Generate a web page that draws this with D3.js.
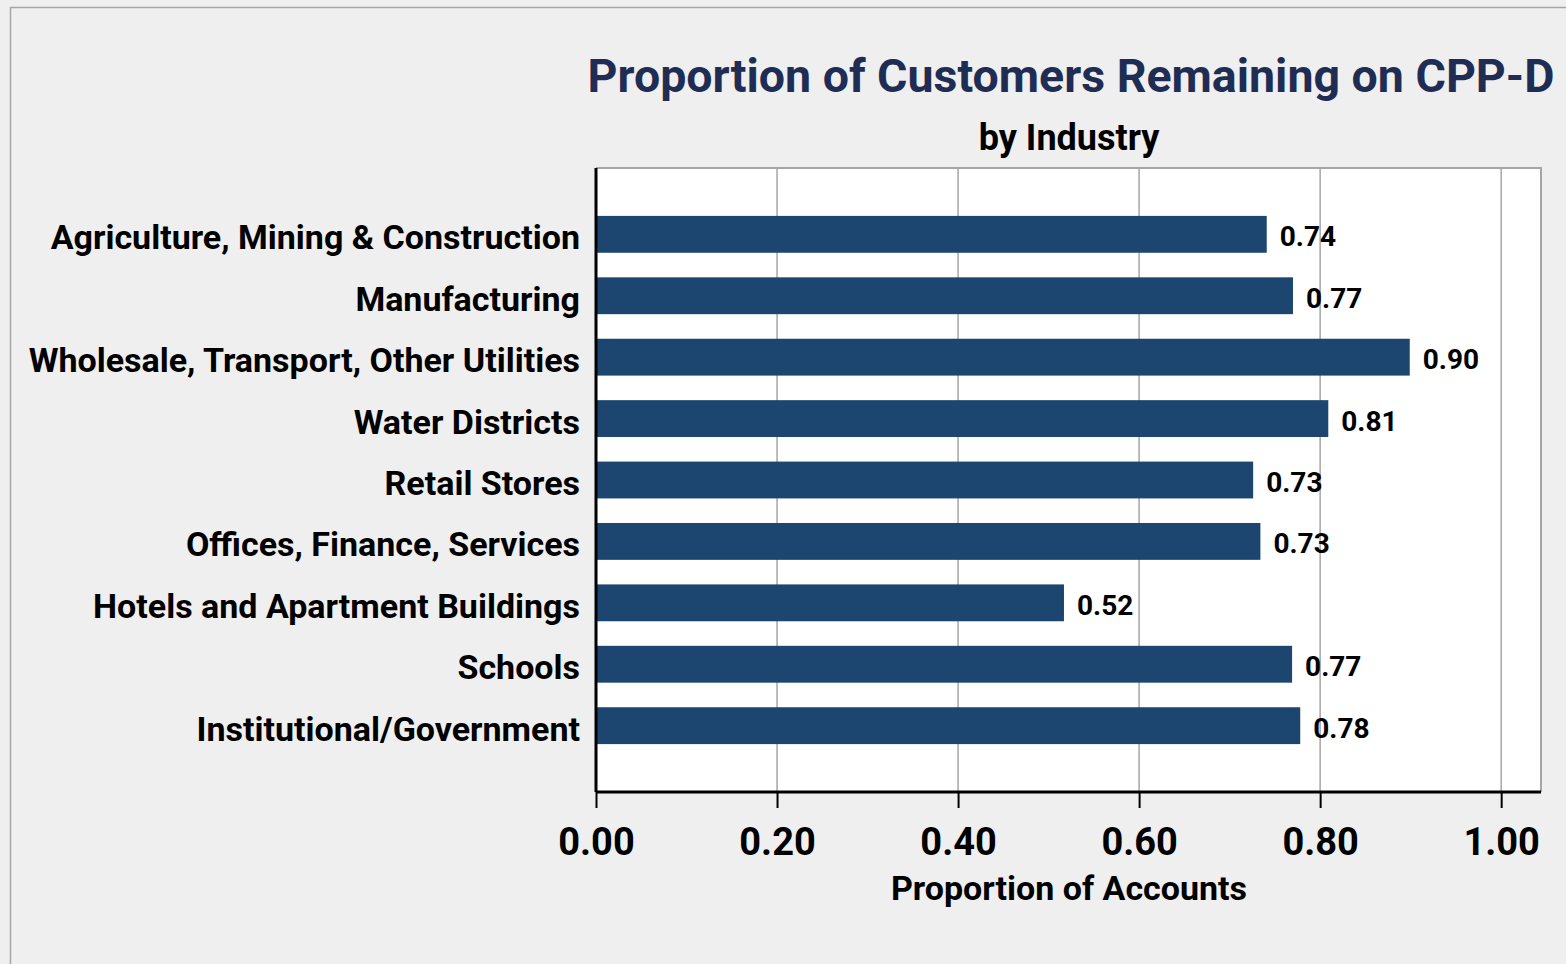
<!DOCTYPE html>
<html>
<head>
<meta charset="utf-8">
<script src="https://cdn.jsdelivr.net/npm/d3@7"></script>
<style>
  html, body { margin: 0; padding: 0; background: #efefef; }
  svg { display: block; }
  text { font-family: Roboto, "Noto Sans", sans-serif; font-weight: bold; }
</style>
</head>
<body>
<svg id="chart" width="1566" height="964"></svg>
<script>
// Industry categories, top to bottom
const categories = [
  "Agriculture, Mining & Construction",
  "Manufacturing",
  "Wholesale, Transport, Other Utilities",
  "Water Districts",
  "Retail Stores",
  "Offices, Finance, Services",
  "Hotels and Apartment Buildings",
  "Schools",
  "Institutional/Government"
];
// Proportion of accounts remaining on CPP-D
const proportions = [0.741, 0.770, 0.899, 0.809, 0.726, 0.734, 0.517, 0.769, 0.778];
// X-axis ticks
const xTicks = [0, 0.2, 0.4, 0.6, 0.8, 1.0];

const titleText = "Proportion of Customers Remaining on CPP-D";
const subtitleText = "by Industry";
const xAxisTitle = "Proportion of Accounts";

const svg = d3.select("#chart");
const W = 1566, H = 964;

// outer panel
svg.append("rect")
  .attr("x", 10.5).attr("y", 7.5)
  .attr("width", W + 20).attr("height", H + 20)
  .attr("fill", "#efefef").attr("stroke", "#a6a6a6").attr("stroke-width", 1.5);

const plot = { left: 596, right: 1541, top: 168, bottom: 792 };

const x = d3.scaleLinear().domain([0, 1.044]).range([plot.left, plot.right]);
const y = d3.scaleBand().domain(categories).range([plot.top, plot.bottom])
  .paddingInner(0.4).paddingOuter(0.78);

// plot background
svg.append("rect")
  .attr("x", plot.left).attr("y", plot.top)
  .attr("width", plot.right - plot.left).attr("height", plot.bottom - plot.top)
  .attr("fill", "#ffffff");

// vertical gridlines
svg.append("g")
  .selectAll("line")
  .data(xTicks.filter(d => d > 0))
  .join("line")
  .attr("x1", d => x(d)).attr("x2", d => x(d))
  .attr("y1", plot.top).attr("y2", plot.bottom)
  .attr("stroke", "#a6a6a6").attr("stroke-width", 1.5);

// top and right borders of plot area
svg.append("path")
  .attr("d", `M${plot.left},${plot.top}H${plot.right}V${plot.bottom}`)
  .attr("fill", "none").attr("stroke", "#a6a6a6").attr("stroke-width", 2);

// bars
svg.append("g")
  .selectAll("rect")
  .data(categories)
  .join("rect")
  .attr("x", x(0))
  .attr("y", d => y(d))
  .attr("width", (d, i) => x(proportions[i]) - x(0))
  .attr("height", y.bandwidth())
  .attr("fill", "#1c4670");

// value labels
const fmt = d3.format(".2f");
svg.append("g")
  .selectAll("text")
  .data(categories)
  .join("text")
  .attr("x", (d, i) => x(proportions[i]) + 13)
  .attr("y", d => y(d) + y.bandwidth() / 2 + 12)
  .attr("font-size", 28)
  .attr("fill", "#000")
  .text((d, i) => fmt(proportions[i]));

// x axis
const xAxis = d3.axisBottom(x).tickValues(xTicks).tickFormat(d3.format(".2f"))
  .tickSize(16).tickSizeOuter(0).tickPadding(20);
const gx = svg.append("g")
  .attr("transform", `translate(0,${plot.bottom})`)
  .call(xAxis);
gx.select(".domain").attr("stroke", "#000").attr("stroke-width", 3)
  .attr("d", `M${plot.left},0H${plot.right}`);
gx.selectAll(".tick line").attr("stroke", "#000").attr("stroke-width", 2);
gx.selectAll(".tick text")
  .attr("font-size", 38).attr("fill", "#000")
  .attr("font-family", "Roboto, sans-serif").attr("font-weight", "bold");

// y axis
const yAxis = d3.axisLeft(y).tickSize(0).tickPadding(16);
const gy = svg.append("g")
  .attr("transform", `translate(${plot.left},0)`)
  .call(yAxis);
gy.select(".domain").attr("stroke", "#000").attr("stroke-width", 3)
  .attr("d", `M0,${plot.top}V${plot.bottom}`);
gy.selectAll(".tick text")
  .attr("font-size", 34).attr("fill", "#000")
  .attr("dy", "0.44em")
  .attr("font-family", "Roboto, sans-serif").attr("font-weight", "bold");

// titles
svg.append("text")
  .attr("x", 1071).attr("y", 92)
  .attr("text-anchor", "middle")
  .attr("font-size", 46.5)
  .attr("fill", "#1f2d55")
  .text(titleText);

svg.append("text")
  .attr("x", 1069).attr("y", 150)
  .attr("text-anchor", "middle")
  .attr("font-size", 36)
  .attr("fill", "#000")
  .text(subtitleText);

svg.append("text")
  .attr("x", 1069).attr("y", 900)
  .attr("text-anchor", "middle")
  .attr("font-size", 34)
  .attr("fill", "#000")
  .text(xAxisTitle);
</script>
</body>
</html>
